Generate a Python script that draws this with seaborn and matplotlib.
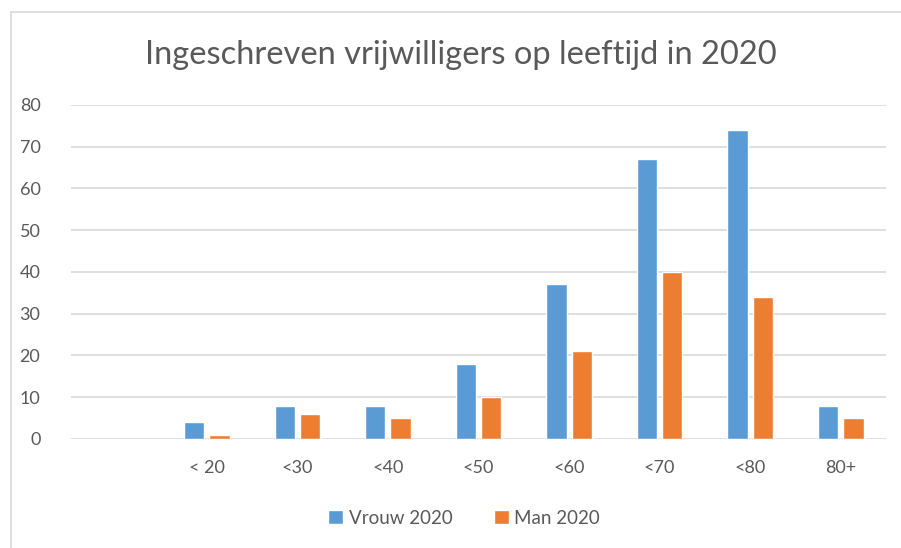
import matplotlib
matplotlib.use("Agg")
from matplotlib import pyplot as plt
from matplotlib.lines import Line2D
import seaborn as sns
import pandas as pd

# data
leeftijd = ["< 20", "<30", "<40", "<50", "<60", "<70", "<80", "80+"]
vrouw_2020 = [4, 8, 8, 18, 37, 67, 74, 8]
man_2020 = [1, 6, 5, 10, 21, 40, 34, 5]
reeksen = ["Vrouw 2020", "Man 2020"]
kleuren = ["#5B9BD5", "#ED7D31"]

df = pd.DataFrame({
    "leeftijd": leeftijd * 2,
    "aantal": vrouw_2020 + man_2020,
    "reeks": [reeksen[0]] * len(leeftijd) + [reeksen[1]] * len(leeftijd),
})

sns.set_theme(style="white")
plt.rcParams["font.family"] = ["Lato", "DejaVu Sans"]
tekst = "#595959"

fig = plt.figure(figsize=(9.01, 5.48), dpi=100)
ax = fig.add_axes([0.0788, 0.199, 0.9046, 0.6095])

# first slot is an empty category, as in the original sheet
order = [" "] + leeftijd
sns.barplot(data=df, x="leeftijd", y="aantal", hue="reeks", order=order,
            hue_order=reeksen, palette=kleuren, saturation=1, width=0.56, gap=0.2,
            errorbar=None, ax=ax, legend=True, zorder=3)

ax.set_ylim(0, 80)
ax.set_yticks(range(0, 81, 10))
ax.set_xlim(-0.5, len(order) - 0.5)
ax.yaxis.grid(True, color="#D9D9D9", linewidth=1.2, zorder=0)
ax.xaxis.grid(False)
for s in ax.spines.values():
    s.set_visible(False)
ax.set_xlabel("")
ax.set_ylabel("")
ax.tick_params(axis="y", length=0, pad=22, labelsize=13, labelcolor=tekst)
ax.tick_params(axis="x", length=0, pad=15, labelsize=13, labelcolor=tekst)

fig.suptitle("Ingeschreven vrijwilligers op leeftijd in 2020", x=0.512, y=0.927,
             fontsize=23.5, color=tekst)

ax.legend(loc="center", bbox_to_anchor=(0.515, 1 - 518 / 548),
          bbox_transform=fig.transFigure, ncol=2, frameon=False,
          fontsize=13.5, handlelength=0.8, handleheight=0.8,
          handletextpad=0.3, columnspacing=2.2, labelcolor=tekst)

# chart border (only left and top visible in the crop)
fig.add_artist(Line2D([11 / 901, 11 / 901], [0, 1 - 12 / 548], color="#D9D9D9", linewidth=1.2))
fig.add_artist(Line2D([11 / 901, 1], [1 - 12 / 548, 1 - 12 / 548], color="#D9D9D9", linewidth=1.2))

plt.savefig("out.png", dpi=100)
